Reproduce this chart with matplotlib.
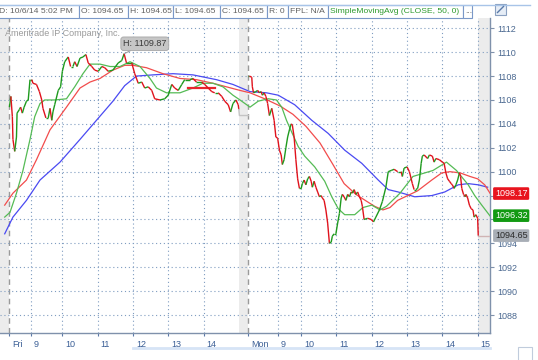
import numpy as np
import matplotlib
matplotlib.use('Agg')
import matplotlib.pyplot as plt
from matplotlib.collections import LineCollection
from matplotlib.patches import Rectangle
from matplotlib.lines import Line2D
from matplotlib.transforms import Affine2D, ScaledTranslation, blended_transform_factory

plt.rcParams['font.family'] = ['Liberation Sans', 'DejaVu Sans']

# chart minutes: Fri 8:30 = 0, Fri 15:00 = 390, Mon 8:30 = 406, Mon 15:00 = 796
MON_OFFSET = 406

# Friday close prices, minutes after the open
fri_min = [0, 2.5, 5, 6, 9, 12, 13, 17, 19, 22, 25, 29, 32, 35, 38, 40, 46, 51, 55, 57,
           62, 66, 69, 72, 74, 77, 83, 87, 90, 94, 100, 104, 108, 111, 115, 120, 125, 130, 134, 140,
           145, 151, 157, 162, 168, 176, 185, 191, 195, 199, 208, 213, 219, 225, 230, 236, 242, 247, 256, 264,
           270, 276, 281, 287, 293, 298, 307, 312, 318, 327, 332, 338, 344, 349, 355, 361, 366, 372, 376, 380,
           385, 389, 390]
fri_close = [1105.4, 1106.3, 1104.6, 1102.7, 1101.7, 1102.9, 1104.9, 1105.2, 1105.4, 1104.9,
             1105.4, 1105.9, 1106.0, 1107.7, 1107.7, 1107.4, 1107.3, 1106.7, 1106.0, 1105.3,
             1104.5, 1104.5, 1105.3, 1104.3, 1105.0, 1105.6, 1106.8, 1107.1, 1108.4, 1109.2,
             1109.6, 1108.8, 1108.8, 1109.2, 1108.8, 1109.5, 1109.6, 1109.8, 1109.1, 1108.8,
             1108.5, 1108.4, 1108.8, 1108.7, 1108.4, 1108.5, 1109.1, 1109.3, 1109.87, 1109.1,
             1109.1, 1108.2, 1107.4, 1107.5, 1107.0, 1107.1, 1106.8, 1106.1, 1106.0, 1106.1,
             1106.4, 1107.3, 1107.0, 1106.8, 1107.3, 1107.7, 1107.7, 1107.8, 1107.5, 1107.5,
             1107.3, 1107.0, 1106.7, 1106.6, 1106.6, 1106.3, 1105.9, 1105.6, 1105.0, 1105.7,
             1106.0, 1105.6, 1105.2]
fri_after = 1104.7

# Monday close prices, minutes after the open
mon_min = [0, 2, 6, 7, 9, 13, 16, 19, 22, 24, 27, 30, 33, 36, 40, 44, 47, 50, 53, 56,
           58, 61, 64, 67, 70, 73, 75, 78, 81, 84, 87, 90, 92, 95, 98, 101, 104, 107, 109, 112,
           115, 118, 121, 124, 126, 129, 132, 135, 138, 141, 143, 146, 149, 152, 155, 158, 160, 163, 166, 169,
           172, 175, 177, 180, 183, 186, 189, 192, 194, 197, 203, 209, 213, 217, 223, 228, 234, 238, 243, 248,
           254, 260, 262, 265, 270, 274, 277, 279, 282, 285, 288, 291, 294, 296, 299, 305, 308, 313, 316, 319,
           325, 330, 333, 336, 339, 342, 345, 347, 350, 353, 356, 359, 361, 363, 366, 369, 370, 373, 376, 379,
           382, 384, 387, 390, 391]
mon_close = [1108.0, 1108.0, 1107.9, 1107.1, 1106.6, 1106.7, 1106.8, 1106.6, 1106.7, 1106.4,
             1106.6, 1106.3, 1105.7, 1104.7, 1105.3, 1104.3, 1102.9, 1102.8, 1101.8, 1101.4,
             1100.6, 1101.0, 1102.0, 1102.9, 1103.5, 1104.0, 1103.9, 1102.9, 1101.0, 1099.4,
             1098.6, 1098.6, 1099.0, 1099.3, 1098.9, 1099.4, 1099.6, 1099.2, 1098.7, 1099.2,
             1098.7, 1098.3, 1097.9, 1098.0, 1097.8, 1097.6, 1096.8, 1095.7, 1094.0, 1094.1,
             1094.6, 1094.8, 1094.8, 1095.7, 1096.5, 1097.8, 1098.1, 1097.9, 1097.6, 1098.1,
             1097.9, 1098.3, 1098.2, 1098.5, 1098.1, 1098.3, 1097.9, 1097.6, 1097.1, 1096.0,
             1096.1, 1096.0, 1095.8, 1096.2, 1096.8, 1097.5, 1098.7, 1100.0, 1100.1, 1100.2,
             1100.0, 1100.0, 1099.6, 1100.3, 1100.4, 1100.0, 1099.4, 1099.0, 1098.5, 1098.5,
             1098.6, 1099.3, 1100.7, 1101.3, 1101.4, 1101.1, 1101.4, 1101.3, 1100.8, 1101.1,
             1101.0, 1100.8, 1100.7, 1099.9, 1099.4, 1099.2, 1099.0, 1098.9, 1098.6, 1098.9,
             1099.3, 1099.9, 1099.6, 1098.6, 1098.1, 1097.9, 1098.1, 1097.8, 1097.2, 1096.9,
             1096.8, 1096.2, 1096.4, 1096.1, 1094.65]
mon_after = 1094.65

# moving averages (chart minutes)
ma_fast_t = [-8, 1, 12, 23, 35, 43, 52, 60, 77, 97, 111, 125, 137, 154, 171, 188, 205, 222, 239, 250,
             267, 290, 312, 329, 346, 363, 380, 392, 409, 423, 440, 454, 463, 471, 480, 491, 502, 519, 536, 548,
             559, 570, 587, 601, 616, 630, 641, 664, 686, 720, 743, 760, 780, 791, 803, 817]
ma_fast = [1096.2, 1096.6, 1098.2, 1100.1, 1102.7, 1104.6, 1105.7, 1106.0, 1106.0, 1106.1,
           1107.1, 1108.2, 1109.0, 1109.0, 1108.8, 1108.8, 1109.2, 1108.8, 1107.8, 1107.0,
           1106.6, 1106.6, 1107.0, 1107.4, 1107.4, 1107.1, 1106.4, 1106.0, 1105.4, 1105.9,
           1106.1, 1106.0, 1105.4, 1104.3, 1103.3, 1102.1, 1101.3, 1100.4, 1099.2, 1097.9,
           1096.9, 1096.4, 1096.4, 1097.0, 1097.2, 1096.8, 1097.1, 1098.2, 1099.6, 1100.1,
           1100.8, 1100.1, 1098.9, 1098.0, 1097.2, 1096.3]

ma_mid_t = [-8, 6, 29, 46, 69, 97, 120, 137, 154, 176, 196, 210, 233, 261, 290, 318, 346, 369, 392, 409,
            434, 460, 482, 504, 528, 550, 569, 589, 608, 621, 635, 647, 660, 677, 694, 718, 735, 749, 766, 783,
            796, 808, 817]
ma_mid = [1097.2, 1098.2, 1099.3, 1101.0, 1103.5, 1105.4, 1107.0, 1107.5, 1107.8, 1108.5,
          1108.9, 1108.9, 1108.7, 1108.2, 1107.8, 1107.7, 1107.4, 1107.1, 1106.8, 1106.6,
          1106.1, 1105.5, 1104.8, 1103.8, 1102.4, 1100.6, 1099.0, 1098.1, 1097.5, 1097.1,
          1096.8, 1097.0, 1097.6, 1098.0, 1098.4, 1099.3, 1099.9, 1100.0, 1099.9, 1099.6,
          1099.4, 1098.9, 1098.2]

ma_slow_t = [-8, 6, 29, 52, 86, 120, 148, 176, 196, 216, 244, 278, 312, 352, 380, 409, 437, 457, 485, 514,
             542, 570, 599, 613, 627, 644, 661, 689, 718, 740, 763, 780, 797, 813]
ma_slow = [1094.8, 1096.2, 1097.6, 1099.3, 1100.8, 1102.7, 1104.3, 1105.9, 1107.2, 1108.0,
           1108.1, 1108.2, 1108.1, 1107.7, 1107.3, 1106.7, 1106.6, 1106.4, 1105.6, 1104.3,
           1103.2, 1101.8, 1100.7, 1100.0, 1099.3, 1098.5, 1098.3, 1097.9, 1098.0, 1098.3,
           1098.9, 1099.0, 1098.9, 1098.7]

flat_level = 1107.0
flat_span = (303, 349)

last_labels = [1098.17, 1096.32, 1094.65]

tick_pos = [0, 36, 90, 150, 210, 270, 330, 406, 456, 496, 556, 616, 676, 736, 796]
tick_lab = ['Fri', '9', '10', '11', '12', '13', '14', 'Mon', '9', '10', '11', '12', '13', '14', '15']
y_ticks = list(range(1088, 1113, 2))

header = ['D: 10/6/14 5:02 PM', 'O: 1094.65', 'H: 1094.65', 'L: 1094.65', 'C: 1094.65',
          'R: 0', 'FPL: N/A', 'SimpleMovingAvg (CLOSE, 50, 0)', '...']
header_edges = [-5, 79, 128, 173, 220, 267, 288, 328, 463, 472]

RED = '#e0121c'
GREEN = '#1e9a1e'

fig = plt.figure(figsize=(5.38, 3.6), dpi=100)
fig.patch.set_facecolor('white')
ax = fig.add_axes([0, 27 / 360, 490 / 538, 315 / 360])
ax.set_xlim(-16, 817)
ax.set_ylim(1086.5, 1112.86)

# extended hours shading + day separators
for a, b in [(-16, 0), (390, MON_OFFSET), (796, 817)]:
    ax.axvspan(a, b, color='#ececec', lw=0, zorder=0)
for s in [0, MON_OFFSET]:
    ax.axvline(s, color='#9a9a9a', ls=(0, (4, 3)), lw=1, zorder=1)

# dotted grid
for y in y_ticks:
    ax.axhline(y, color='#7f9cc0', ls=(0, (1, 2.5)), lw=0.8, zorder=1)
for t in tick_pos:
    if t not in (0, MON_OFFSET):
        ax.axvline(t, color='#7f9cc0', ls=(0, (1, 2.5)), lw=0.8, zorder=1)

# moving averages
ax.plot(ma_slow_t, ma_slow, color='#4a4af2', lw=0.9, zorder=3)
ax.plot(ma_mid_t, ma_mid, color='#f24c4c', lw=0.9, zorder=3)
ax.plot(ma_fast_t, ma_fast, color='#55bb55', lw=0.9, zorder=3)
ax.plot(flat_span, [flat_level, flat_level], color='#e8262e', lw=1.6, zorder=3)

# price line, coloured by direction
t_all = np.concatenate([np.array(fri_min), np.array(mon_min) + MON_OFFSET])
p_all = np.concatenate([fri_close, mon_close])
segs, cols = [], []
for i in range(len(t_all) - 1):
    if i == len(fri_min) - 1:
        continue
    segs.append([(t_all[i], p_all[i]), (t_all[i + 1], p_all[i + 1])])
    cols.append(GREEN if p_all[i + 1] >= p_all[i] else RED)
ax.add_collection(LineCollection(segs, colors=cols, linewidths=1.0, zorder=4))

# after hours
ax.plot([fri_min[-1], fri_min[-1] + 1, MON_OFFSET], [fri_close[-1], fri_after, fri_after],
        color='#c4c4c4', lw=1, zorder=4)
ax.plot([MON_OFFSET + mon_min[-1], 817], [mon_after, mon_after], color='#d0b4b4', lw=1, zorder=4)

# high callout
i_hi = int(np.argmax(fri_close))
ax.annotate(f'H: {fri_close[i_hi]:.2f}', xy=(fri_min[i_hi], fri_close[i_hi]),
            xytext=(-1, 10), textcoords='offset pixels', ha='left', va='center',
            fontsize=6.5, color='#3a3a3a', zorder=6,
            bbox=dict(boxstyle='round,pad=0.25,rounding_size=0.3', fc='#c6c6c6', ec='#a6a6a6', lw=0.6),
            arrowprops=dict(arrowstyle='-', color='#a0a0a0', lw=0.8, shrinkA=0, shrinkB=0))

# axes styling
for s in ['left', 'top']:
    ax.spines[s].set_visible(False)
for s in ['bottom', 'right']:
    ax.spines[s].set_color('#7f91ab')
    ax.spines[s].set_linewidth(1)
ax.yaxis.tick_right()
ax.set_yticks(y_ticks)
# labels hidden behind the value boxes are left out
ax.set_yticklabels(['' if v in (1096, 1098) else str(v) for v in y_ticks])
ax.tick_params(axis='y', colors='#7f91ab', labelcolor='#4a6890', labelsize=6.5, length=3, pad=2)
ax.set_xticks(tick_pos)
ax.set_xticklabels(tick_lab)
ax.tick_params(axis='x', colors='#5a78a8', labelcolor='#3b5f96', labelsize=6.5, length=2, pad=3)
shift = ScaledTranslation(3 / 100, 0, fig.dpi_scale_trans)
for lab in ax.get_xticklabels():
    lab.set_ha('left')
    lab.set_transform(lab.get_transform() + shift)

# last value labels on the right
blend = blended_transform_factory(ax.transAxes, ax.transData)
for val, fc, tc in zip(last_labels, ['#e8141e', '#129a12', '#a8aeb6'], ['white', 'white', '#2a2a2a']):
    ax.text(1.01, val, f'{val:.2f}', transform=blend, ha='left', va='center', fontsize=6.5,
            color=tc, clip_on=False, zorder=7,
            bbox=dict(boxstyle='round,pad=0.2,rounding_size=0.15', fc=fc, ec='none'))

# header and decorations in pixel coordinates
pix = Affine2D().scale(1 / 538, -1 / 360).translate(0, 1) + fig.transFigure
fig.add_artist(Line2D([0, 530], [4.5, 4.5], transform=pix, color='#a8c4e8', lw=1))
for k, txt in enumerate(header):
    x0, x1 = header_edges[k], header_edges[k + 1]
    fig.add_artist(Rectangle((x0, 5), x1 - x0, 13, transform=pix, fc='white', ec='#7a98c8', lw=0.8))
    fig.text(x0 + 2 if k else -1, 11.8, txt, transform=pix, va='center', ha='left', fontsize=6.1,
             color='#2e9a2e' if txt.startswith('Simple') else '#606060')
fig.add_artist(Rectangle((495, 4), 11, 11, transform=pix, fc='#e6edf6', ec='#8aa0c0', lw=0.8))
fig.add_artist(Line2D([497.5, 503.5], [12.5, 6.5], transform=pix, color='#5a7aa8', lw=1))
fig.text(5, 33, 'Ameritrade IP Company, Inc.', transform=pix, va='center', ha='left',
         fontsize=6.5, color='#9a9a9a')
fig.add_artist(Line2D([133, 490], [348, 348], transform=pix, color='#d6e4f6', lw=2))
fig.add_artist(Rectangle((518, 347), 14, 14, transform=pix, fc='none', ec='#c0ccdc', lw=0.8))

fig.savefig('out.png', dpi=100)
